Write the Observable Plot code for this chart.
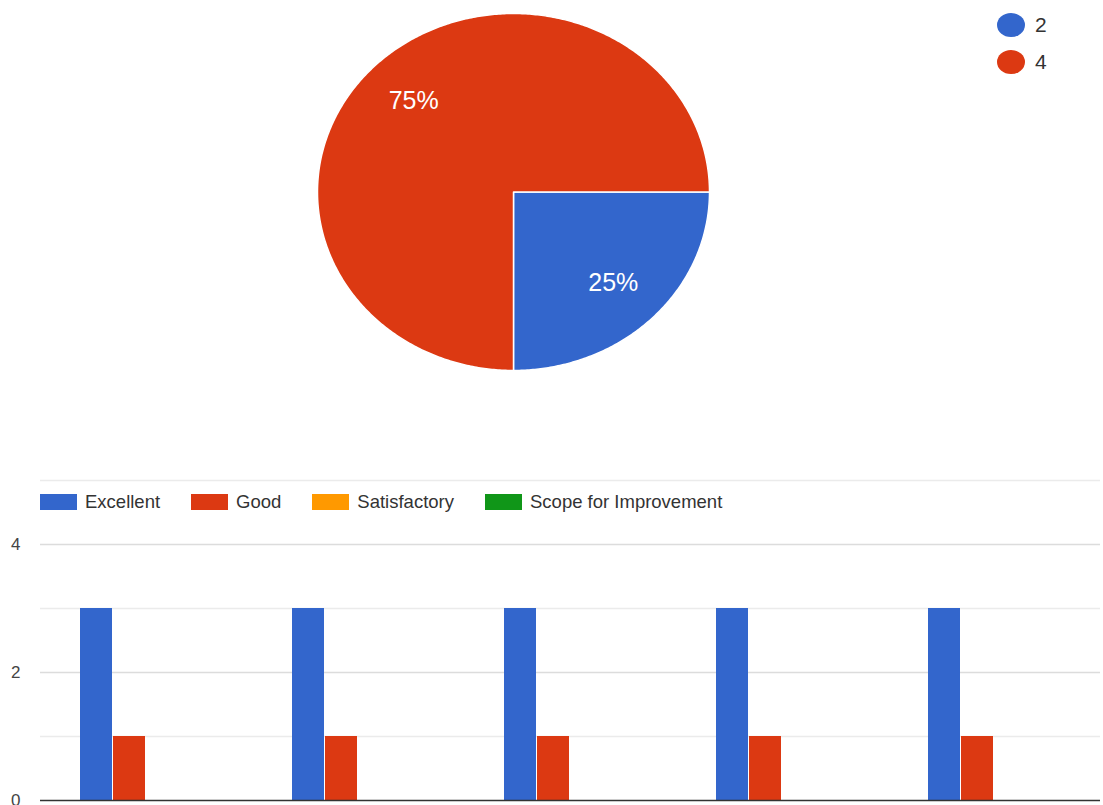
<!DOCTYPE html>
<html>
<head>
<meta charset="utf-8">
<script src="https://cdn.jsdelivr.net/npm/d3@7"></script>
<script src="https://cdn.jsdelivr.net/npm/@observablehq/plot@0.6"></script>
<style>
  body { margin: 0; background: #fff; font-family: "Liberation Sans", Arial, sans-serif; }
  #wrap { position: relative; width: 1103px; height: 805px; overflow: hidden; }
  #pie { position: absolute; left: 0; top: 0; }
  #bars { position: absolute; left: 0; top: 470px; }
  .pieLegend { position: absolute; left: 997px; top: 6px; font-size: 21px; color: #333; }
  .pieLegend .item { display: flex; align-items: center; height: 37.5px; }
  .pieLegend .dot { width: 28px; height: 24px; border-radius: 50%; margin-right: 10px; }
  .barLegend { position: absolute; left: 40px; top: 490px; display: flex; align-items: center; font-size: 18.5px; color: #333; background: #fff; height: 24px; }
  .barLegend .sw { width: 37px; height: 16px; margin-right: 8px; }
  .barLegend .lab { margin-right: 31px; }
</style>
</head>
<body>
<div id="wrap">
  <div id="pie"></div>
  <div class="pieLegend" id="pieLegend"></div>
  <div id="bars"></div>
  <div class="barLegend" id="barLegend"></div>
</div>
<script>
// ---- Pie data ----
const pieLabels = ["2", "4"];
const pieValues = [1, 3];
const pieColors = ["#3366cc", "#dc3912"];

// ---- Bar data ----
const groups = ["1", "2", "3", "4", "5"];
const ratings = ["Excellent", "Good", "Satisfactory", "Scope for Improvement"];
const ratingColors = ["#3366cc", "#dc3912", "#ff9900", "#109618"];
const excellent = [3, 3, 3, 3, 3];
const good = [1, 1, 1, 1, 1];
const satisfactory = [0, 0, 0, 0, 0];
const scope = [0, 0, 0, 0, 0];
const yTicks = [0, 2, 4];

// ---- Pie geometry from values ----
const total = d3.sum(pieValues);
const startAngle = Math.PI / 2; // first slice begins at 3 o'clock, clockwise
const piePts = [];
const pieText = [];
let acc = 0;
pieValues.forEach((v, i) => {
  const a0 = startAngle + (acc / total) * 2 * Math.PI;
  acc += v;
  const a1 = startAngle + (acc / total) * 2 * Math.PI;
  piePts.push({ label: pieLabels[i], x: 0, y: 0 });
  const n = Math.max(8, Math.ceil((a1 - a0) / 0.01));
  for (let k = 0; k <= n; k++) {
    const a = a0 + (a1 - a0) * k / n;
    piePts.push({ label: pieLabels[i], x: Math.sin(a), y: Math.cos(a) });
  }
  piePts.push({ label: pieLabels[i], x: 0, y: 0 });
  const am = (a0 + a1) / 2;
  pieText.push({ label: pieLabels[i], x: 0.72 * Math.sin(am), y: 0.72 * Math.cos(am),
    text: Math.round(v / total * 100) + "%" });
});

const pie = Plot.plot({
  width: 1103, height: 400,
  marginLeft: 317, marginRight: 394, marginTop: 13, marginBottom: 30,
  x: { domain: [-1, 1], axis: null },
  y: { domain: [-1, 1], axis: null },
  color: { domain: pieLabels, range: pieColors },
  style: { fontFamily: "'Liberation Sans', Arial, sans-serif", background: "transparent" },
  marks: [
    Plot.line(piePts, { x: "x", y: "y", z: "label", fill: "label", stroke: "white", strokeWidth: 1.5, curve: "linear" }),
    Plot.text(pieText, { x: "x", y: "y", text: "text", fill: "white", fontSize: 25 })
  ]
});
document.getElementById("pie").appendChild(pie);

const pl = document.getElementById("pieLegend");
pieLabels.forEach((l, i) => {
  const it = document.createElement("div"); it.className = "item";
  const d = document.createElement("div"); d.className = "dot"; d.style.background = pieColors[i];
  const t = document.createElement("span"); t.textContent = l;
  it.appendChild(d); it.appendChild(t); pl.appendChild(it);
});

// ---- Bar chart ----
const series = [excellent, good, satisfactory, scope];
const barData = [];
groups.forEach((g, gi) => ratings.forEach((r, ri) => barData.push({ group: g, rating: r, value: series[ri][gi] })));

const bars = Plot.plot({
  width: 1103, height: 335,
  marginLeft: 40, marginRight: 3, marginTop: 10, marginBottom: 5,
  fx: { domain: groups, padding: 0, axis: null, label: null },
  x: { domain: ratings, axis: null, paddingInner: 0.03, paddingOuter: 1.22 },
  y: { domain: [0, 5], ticks: yTicks, tickSize: 0, tickPadding: 20, label: null, tickFormat: d => d },
  color: { domain: ratings, range: ratingColors },
  style: { fontFamily: "'Liberation Sans', Arial, sans-serif", fontSize: "17px", color: "#444", background: "transparent" },
  marks: [
    Plot.ruleY([1, 3, 5], { stroke: "#ebebeb", strokeWidth: 1.5 }),
    Plot.ruleY([2, 4], { stroke: "#dcdcdc", strokeWidth: 1.5 }),
    Plot.barY(barData, { fx: "group", x: "rating", y: "value", fill: "rating" }),
    Plot.ruleY([0], { stroke: "#333", strokeWidth: 1.5 })
  ]
});
document.getElementById("bars").appendChild(bars);

const bl = document.getElementById("barLegend");
ratings.forEach((r, i) => {
  const s = document.createElement("div"); s.className = "sw"; s.style.background = ratingColors[i];
  const t = document.createElement("span"); t.className = "lab"; t.textContent = r;
  bl.appendChild(s); bl.appendChild(t);
});
</script>
</body>
</html>
